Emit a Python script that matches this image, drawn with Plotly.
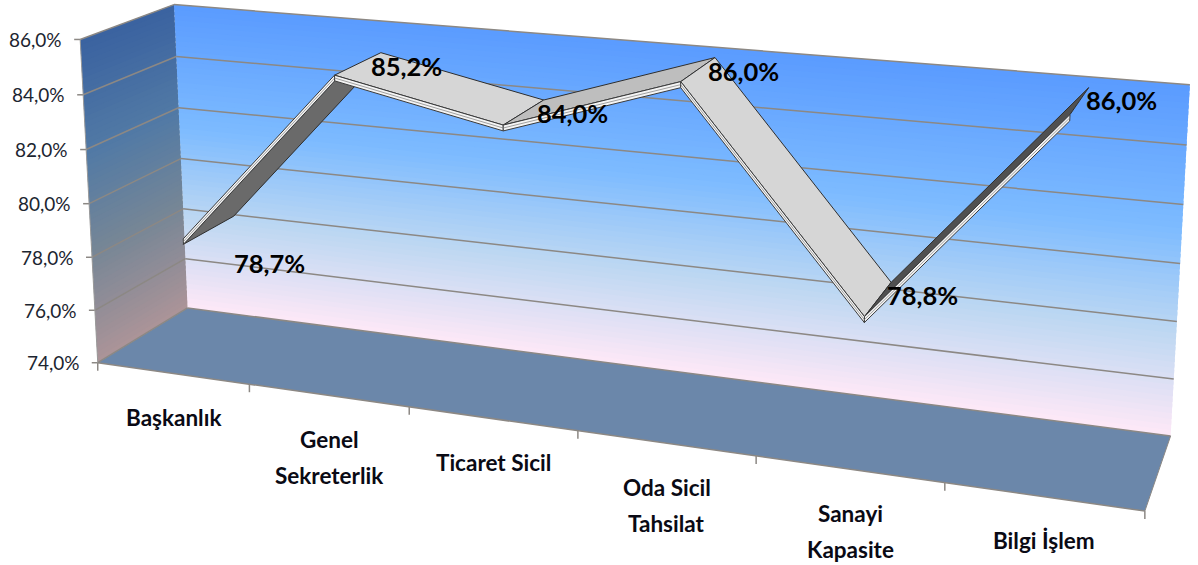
import numpy as np
import plotly.graph_objects as go

categories = [["Başkanlık"], ["Genel", "Sekreterlik"], ["Ticaret Sicil"], ["Oda Sicil", "Tahsilat"], ["Sanayi", "Kapasite"], ["Bilgi İşlem"]]
values = [78.7, 85.2, 84.0, 86.0, 78.8, 86.0]
value_labels = ["78,7%", "85,2%", "84,0%", "86,0%", "78,8%", "86,0%"]
axis_ticks = [74, 76, 78, 80, 82, 84, 86]
axis_labels = ["74,0%", "76,0%", "78,0%", "80,0%", "82,0%", "84,0%", "86,0%"]

V0, V1 = 74.0, 86.0
W, H = 1198, 565
calib = [
    ((0, 0, 0), (98, 362)), ((0, 1, 0), (80, 39)), ((0, 0, 1), (187, 308)), ((0, 1, 1), (174, 5)),
    ((1, 0, 1), (1171, 435)), ((1, 1, 1), (1190, 85)), ((1, 0, 0), (1145, 510)),
    ((1 / 6, 0, 0), (250, 385)), ((5 / 6, 0, 0), (944, 485)),
    ((0, .5, 1), (181, 159)), ((1, .5, 1), (1180, 263)), ((0, .5, 0), (89, 203)),
]
A, b = [], []
for (u, t, w), (x, y) in calib:
    A.append([u, t, w, 1, 0, 0, 0, 0, -x * u, -x * t, -x * w]); b.append(x)
    A.append([0, 0, 0, 0, u, t, w, 1, -y * u, -y * t, -y * w]); b.append(y)
sol = np.linalg.lstsq(np.array(A, float), np.array(b, float), rcond=None)[0]
P = np.append(sol, 1.0).reshape(3, 4)


def proj(u, v, w):
    h = P @ np.array([u, (v - V0) / (V1 - V0), w, 1.0])
    return h[0] / h[2], h[1] / h[2]


def poly(pts, fill, line=None, lw=1):
    xs = [p[0] for p in pts] + [pts[0][0]]
    ys = [p[1] for p in pts] + [pts[0][1]]
    return go.Scatter(x=xs, y=ys, mode="lines", fill="toself", fillcolor=fill,
                      line=dict(color=line or fill, width=lw if line else 0), hoverinfo="skip", showlegend=False)


def seg(p, q, color="#8c8884", lw=1.5):
    return go.Scatter(x=[p[0], q[0]], y=[p[1], q[1]], mode="lines", line=dict(color=color, width=lw),
                      hoverinfo="skip", showlegend=False)


def ramp(t, stops):
    for (a, ca), (b_, cb) in zip(stops, stops[1:]):
        if t <= b_:
            f = (t - a) / (b_ - a)
            return "rgb(%d,%d,%d)" % tuple(round(x + (y - x) * f) for x, y in zip(ca, cb))
    return "rgb(%d,%d,%d)" % stops[-1][1]


BACK = [(0, (254, 232, 247)), (.3, (190, 216, 242)), (.6, (125, 187, 255)), (1, (90, 155, 255))]
SIDE = [(0, (172, 148, 152)), (.35, (118, 134, 150)), (.65, (82, 122, 165)), (1, (58, 98, 160))]
fig = go.Figure()
N = 60
for i in range(N):
    t0, t1 = i / N, (i + 1.6) / N
    t1 = min(t1, 1)
    v0, v1 = V0 + t0 * 12, V0 + t1 * 12
    fig.add_trace(poly([proj(0, v0, 1), proj(1, v0, 1), proj(1, v1, 1), proj(0, v1, 1)], ramp((i + .5) / N, BACK)))
    fig.add_trace(poly([proj(0, v0, 0), proj(0, v0, 1), proj(0, v1, 1), proj(0, v1, 0)], ramp((i + .5) / N, SIDE)))
fig.add_trace(poly([proj(0, V0, 0), proj(1, V0, 0), proj(1, V0, 1), proj(0, V0, 1)], "#6B87AA"))

for v in axis_ticks:
    fig.add_trace(seg(proj(0, v, 1), proj(1, v, 1)))
    fig.add_trace(seg(proj(0, v, 0), proj(0, v, 1)))
    x, y = proj(0, v, 0)
    fig.add_trace(seg((x - 6, y), (x, y)))
fig.add_trace(seg(proj(0, V0, 0), proj(0, V1, 0), "#9a9a9a", 1))
fig.add_trace(seg(proj(0, V0, 0), proj(1, V0, 0)))
fig.add_trace(seg(proj(1, V0, 0), proj(1, V0, 1), "#8c8884", 1))
for i in range(7):
    x, y = proj(i / 6, V0, 0)
    fig.add_trace(seg((x, y), (x, y + 8)))

# ribbon
W0, W1 = 0.13, 0.70
DV = 0.10
UO = 0.005
faces = ["#6A6A6A", "#D6D6D6", "#BEBEBE", "#D6D6D6", "#505050"]
under = [True, False, False, False, False]
for i in range(5):
    u0, u1 = (i + .5) / 6 + UO, (i + 1.5) / 6 + UO
    a, c = values[i], values[i + 1]
    s = -DV if under[i] else DV
    fig.add_trace(poly([proj(u0, a + s, W0), proj(u1, c + s, W0), proj(u1, c + s, W1), proj(u0, a + s, W1)],
                       faces[i], "#2e2e2e", 1))
    fig.add_trace(poly([proj(u0, a + DV, W0), proj(u1, c + DV, W0), proj(u1, c - DV, W0), proj(u0, a - DV, W0)],
                       "#F4F4F4", "#3a3a3a", 1))
    fig.add_trace(seg(proj(u0, a, W0), proj(u1, c, W0), "#8a8a8a", 0.8))

anns = []
FONT = "Lato"
for v, lab in zip(axis_ticks, axis_labels):
    x, y = proj(0, v, 0)
    anns.append(dict(x=x - 16, y=y, text=lab, xanchor="right", yanchor="middle", showarrow=False,
                     font=dict(family=FONT, size=19, color="#1c2530")))
for i, lines in enumerate(categories):
    x, y = proj((i + .5) / 6, V0, 0)
    for k, ln in enumerate(lines):
        anns.append(dict(x=x + 1, y=y + 44 + 36 * k, text=ln, xanchor="center", yanchor="middle", showarrow=False,
                         font=dict(family=FONT, size=22.5, color="#0a0a14", weight="bold")))
label_shift = [(86, 21), (72, -12), (69, -15), (63, -14), (58, -25), (52, -18)]
for i, (v, lab) in enumerate(zip(values, value_labels)):
    x, y = proj((i + .5) / 6 + UO, v, W0)
    dx, dy = label_shift[i]
    anns.append(dict(x=x + dx, y=y + dy, text=lab, xanchor="center", yanchor="middle", showarrow=False,
                     font=dict(family=FONT, size=25.5, color="#000000", weight="bold")))

fig.update_layout(width=W, height=H, margin=dict(l=0, r=0, t=0, b=0), paper_bgcolor="white", plot_bgcolor="white",
                  showlegend=False, annotations=anns,
                  xaxis=dict(range=[0, W], visible=False, fixedrange=True),
                  yaxis=dict(range=[H, 0], visible=False, fixedrange=True))
fig.write_html("out.html", config=dict(displayModeBar=False), post_script="document.body.style.margin='0';")
